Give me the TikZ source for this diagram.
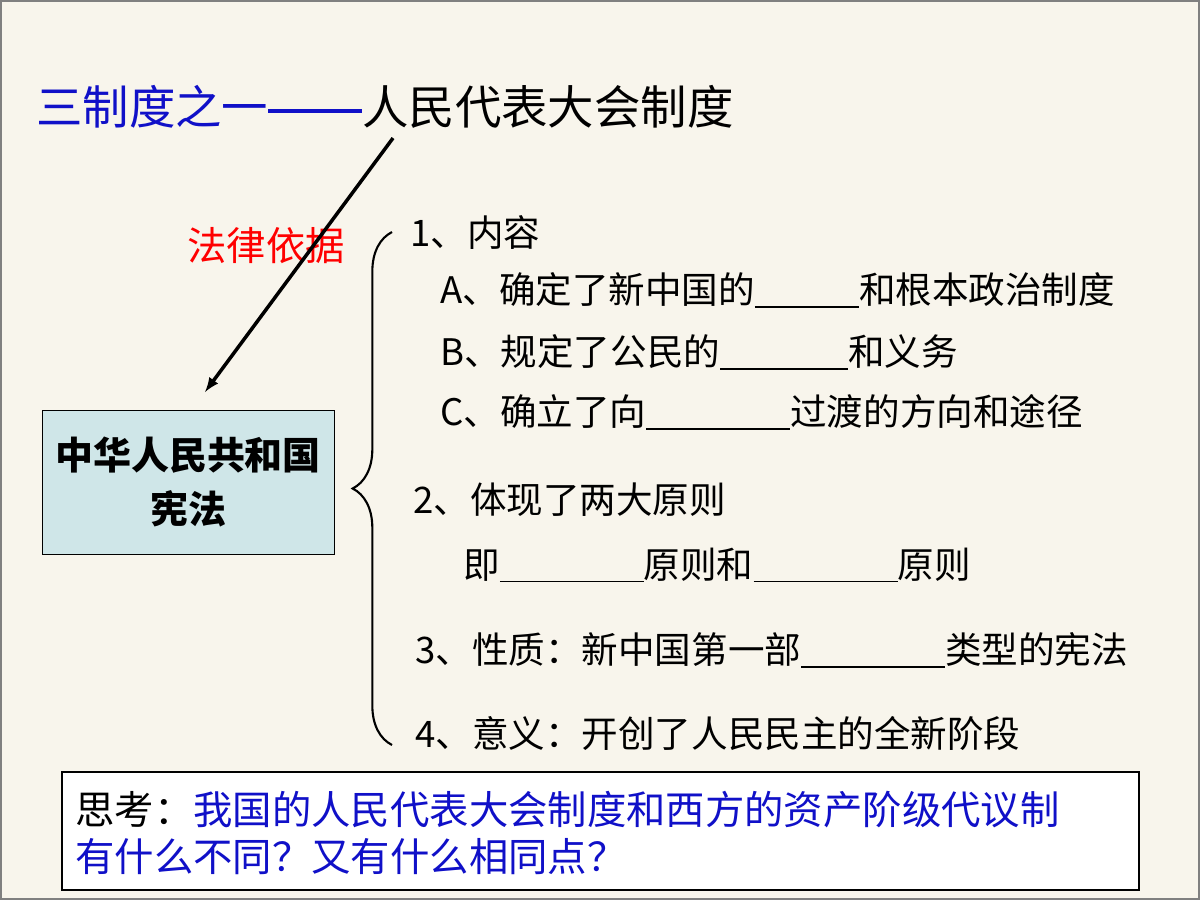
\documentclass[tikz,border=0pt]{standalone}
\usepackage{fontspec}
\setmainfont{Noto Sans CJK SC}
\usetikzlibrary{decorations.pathreplacing}
\definecolor{paper}{HTML}{F8F5EC}
\definecolor{boxblue}{HTML}{CFE6E8}
\definecolor{titleblue}{HTML}{1010C8}
\newcommand{\blank}[1]{\rule[-3pt]{#1}{1pt}}
\begin{document}
\begin{tikzpicture}[x=0.025cm, y=-0.025cm,
    item/.style={anchor=west, inner sep=0pt, font=\fontsize{26}{30}\selectfont},
    lawbox/.style={draw, fill=boxblue, minimum width=7.3cm, minimum height=3.6cm,
                   align=center, font=\fontsize{27}{38}\selectfont\bfseries}]
	\fill[paper] (0,0) rectangle (1200,900);
	\draw[gray, line width=1.5pt] (1,1) rectangle (1199,899);

	\node[item, font=\fontsize{33}{36}\selectfont] (title) at (36, 107)
		{\textcolor{titleblue}{三制度之一\rule[8pt]{2.35cm}{3pt}}人民代表大会制度};
	\coordinate (arrtop) at (393, 138);
	\node[lawbox] (law) at (188, 482) {中华人民共和国\\宪法};
	\node[item, font=\fontsize{28}{30}\selectfont, text=red] (basis) at (187, 246) {法律依据};
	\draw[line width=2.5pt, -latex] (arrtop) -- (205, 392);

	\draw[line width=1.5pt, decoration={brace, amplitude=28pt}, decorate]
		(392, 745) -- (392, 232);

	\node[item] (c1) at (410, 232) {1、内容};
	\node[item] (ca) at (440, 290) {A、确定了新中国的\blank{2.6cm}和根本政治制度};
	\node[item] (cb) at (440, 352) {B、规定了公民的\blank{3.2cm}和义务};
	\node[item] (cc) at (440, 412) {C、确立了向\blank{3.6cm}过渡的方向和途径};
	\node[item] (c2) at (413, 500) {2、体现了两大原则};
	\node[item] (c2a) at (463, 565) {即\blank{3.6cm}原则和\blank{3.6cm}原则};
	\node[item] (c3) at (415, 650) {3、性质：新中国第一部\blank{3.6cm}类型的宪法};
	\node[item] (c4) at (415, 733) {4、意义：开创了人民民主的全新阶段};

	\draw[fill=white, line width=0.8pt] (62, 772) rectangle (1139, 890);
	\node[item, font=\fontsize{28}{33}\selectfont, align=left] (think) at (75, 833)
		{思考：\textcolor{titleblue}{我国的人民代表大会制度和西方的资产阶级代议制}\\
		 \textcolor{titleblue}{有什么不同？又有什么相同点？}};
\end{tikzpicture}
\end{document}
